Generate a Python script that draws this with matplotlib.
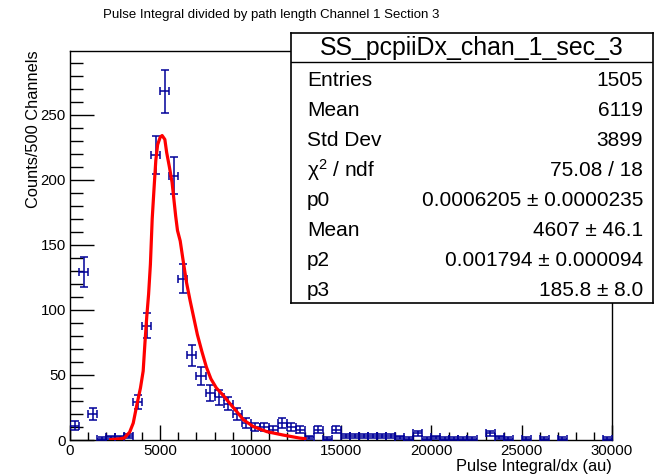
import numpy as np
import matplotlib
matplotlib.use("Agg")
import matplotlib.pyplot as plt
from matplotlib.ticker import MultipleLocator

plt.rcParams['font.family'] = ['Liberation Sans', 'DejaVu Sans']
plt.rcParams['mathtext.fontset'] = 'custom'
plt.rcParams['mathtext.rm'] = 'Liberation Sans'
plt.rcParams['mathtext.it'] = 'Liberation Sans'

# Histogram: 60 bins of 500 from 0 to 30000
bin_width = 500
counts = [11, 129, 20, 1, 2, 2, 3, 29, 88, 219,
          268, 203, 124, 65, 49, 36, 33, 28, 20, 13,
          10, 10, 8, 13, 10, 8, 2, 8, 1, 8,
          3, 3, 3, 3, 3, 3, 2, 1, 5, 1,
          2, 1, 1, 1, 1, 0, 5, 2, 1, 0,
          1, 0, 1, 0, 1, 0, 0, 0, 0, 1]

# Fitted curve, sampled along its length
fit_x = [2250, 2750, 3000, 3300, 3500, 3700, 3900, 4050, 4150, 4250,
         4350, 4450, 4550, 4650, 4750, 4850, 5000, 5100, 5250, 5350,
         5500, 5650, 5750, 5850, 5950, 6100, 6250, 6450, 6650, 6850,
         7050, 7300, 7550, 7800, 8100, 8500, 8850, 9250, 9600, 10150,
         10900, 11800, 12700, 13000]
fit_y = [0.3, 0.9, 1.5, 6, 13, 27, 40, 53, 75, 95,
         112, 135, 170, 193, 215, 227, 233, 234, 231, 221,
         210, 198, 185, 172, 161, 153, 139, 121, 107, 94,
         81, 68, 56, 47, 40, 34, 28, 21.5, 15.5, 10.3,
         6.4, 3.8, 1.5, 1.0]

title = "Pulse Integral divided by path length Channel 1 Section 3"
xlabel = "Pulse Integral/dx (au)"
ylabel = "Counts/500 Channels"

stats_name = "SS_pcpiiDx_chan_1_sec_3"
stats_labels = ["Entries", "Mean", "Std Dev", "χ$^{2}$ / ndf", "p0", "Mean", "p2", "p3"]
stats_values = ["1505", "6119", "3899", "75.08 / 18",
                "0.0006205 ± 0.0000235", "4607 ± 46.1",
                "0.001794 ± 0.000094", "185.8 ± 8.0"]

W, H = 658, 476
fig = plt.figure(figsize=(W / 100, H / 100), dpi=100)
ax = fig.add_axes([70 / W, 1 - 440 / H, (612 - 70) / W, (440 - 51) / H])

counts = np.array(counts, dtype=float)
centers = (np.arange(len(counts)) + 0.5) * bin_width
mask = counts > 0
ax.errorbar(centers[mask], counts[mask], xerr=bin_width / 2,
            yerr=np.sqrt(counts[mask]), fmt='none', ecolor='#000099',
            elinewidth=1.1, capsize=2.6, capthick=1.1, zorder=3)
ax.plot(fit_x, fit_y, color='#ff0000', lw=2.3, zorder=4)

ax.set_xlim(0, 30000)
ax.set_ylim(0, 299)
ax.xaxis.set_major_locator(MultipleLocator(5000))
ax.xaxis.set_minor_locator(MultipleLocator(1000))
ax.yaxis.set_major_locator(MultipleLocator(50))
ax.yaxis.set_minor_locator(MultipleLocator(10))
ax.tick_params(axis='x', which='major', direction='in', length=11, width=1, labelsize=10.8, pad=3)
ax.tick_params(axis='x', which='minor', direction='in', length=6, width=1)
ax.tick_params(axis='y', which='major', direction='in', length=17, width=1, labelsize=10.8, pad=3)
ax.tick_params(axis='y', which='minor', direction='in', length=9, width=1)
for s in ax.spines.values():
    s.set_linewidth(1.0)

fig.text(271 / W, 1 - 15 / H, title, ha='center', va='center', fontsize=9.5)
fig.text(612 / W, 1 - 466 / H, xlabel, ha='right', va='center', fontsize=11.8)
fig.text(34 / W, 1 - 50 / H, ylabel, ha='center', va='top', rotation=90, fontsize=11.8)

# Statistics box
bx0, bx1, by0, by1 = 291, 653, 33, 303
sax = fig.add_axes([bx0 / W, 1 - by1 / H, (bx1 - bx0) / W, (by1 - by0) / H])
sax.set_xlim(bx0, bx1)
sax.set_ylim(by1, by0)
sax.set_xticks([])
sax.set_yticks([])
sax.set_facecolor('white')
for s in sax.spines.values():
    s.set_linewidth(1.2)
sax.axhline(62, color='black', lw=1.0)
sax.text((bx0 + bx1) / 2, 48, stats_name, ha='center', va='center', fontsize=17.9)
row_y = 80
for lab, val in zip(stats_labels, stats_values):
    sax.text(307, row_y, lab, ha='left', va='center', fontsize=15)
    sax.text(643, row_y, val, ha='right', va='center', fontsize=15)
    row_y += 30

fig.savefig("out.png", dpi=100)
